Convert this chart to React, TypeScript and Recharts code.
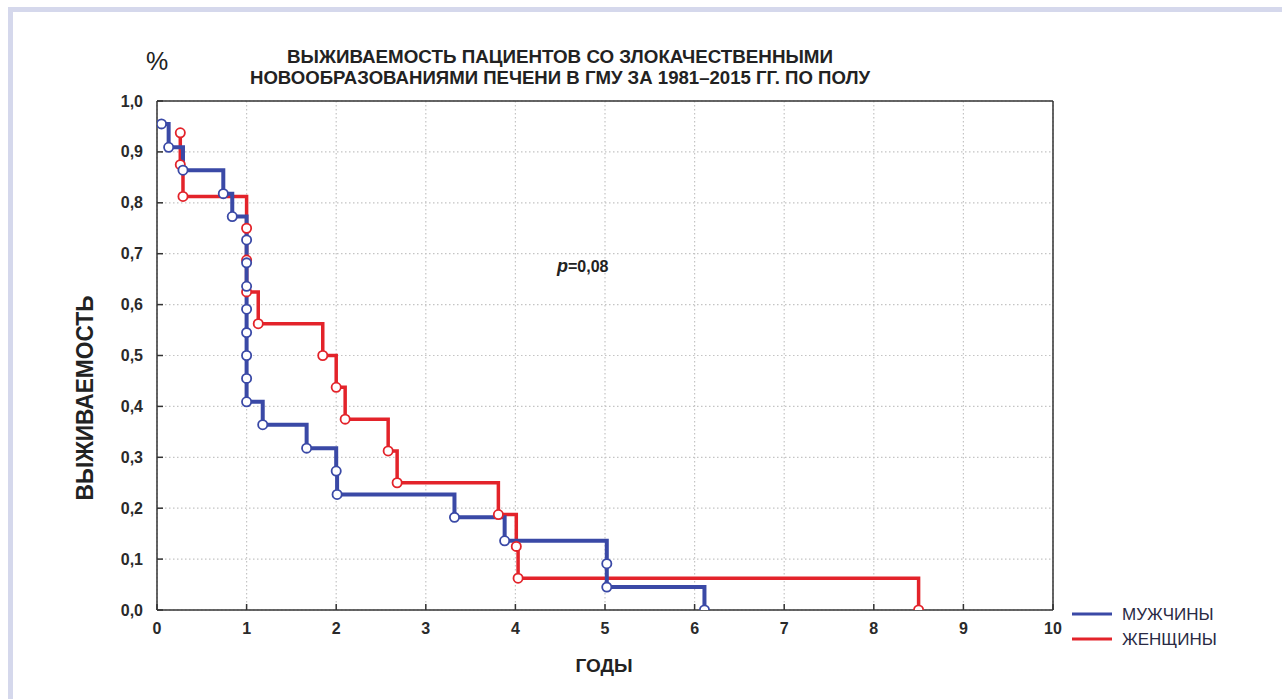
import React from 'react';
import { ComposedChart, Line, XAxis, YAxis, CartesianGrid } from 'recharts';

// ---- data ----
const menTimes = [0.05, 0.13, 0.29, 0.74, 0.84, 1.0, 1.0, 1.0, 1.0, 1.0, 1.0, 1.0, 1.0, 1.18, 1.67, 2.0, 2.01, 3.32, 3.88, 5.02, 5.02, 6.11];
const menSurvival = [0.955, 0.909, 0.864, 0.818, 0.773, 0.727, 0.682, 0.636, 0.591, 0.545, 0.5, 0.455, 0.409, 0.364, 0.318, 0.273, 0.227, 0.182, 0.136, 0.091, 0.045, 0.0];
const womenTimes = [0.26, 0.26, 0.29, 1.0, 1.0, 1.0, 1.13, 1.85, 2.0, 2.1, 2.58, 2.68, 3.81, 4.01, 4.03, 8.5];
const womenSurvival = [0.9375, 0.875, 0.8125, 0.75, 0.6875, 0.625, 0.5625, 0.5, 0.4375, 0.375, 0.3125, 0.25, 0.1875, 0.125, 0.0625, 0.0];
const xTicks = [0, 1, 2, 3, 4, 5, 6, 7, 8, 9, 10];
const yTicks = [0, 0.1, 0.2, 0.3, 0.4, 0.5, 0.6, 0.7, 0.8, 0.9, 1.0];
const seriesNames = ['МУЖЧИНЫ', 'ЖЕНЩИНЫ'];
const seriesColors = ['#3a49a6', '#e3232a'];
const titleLines = ['ВЫЖИВАЕМОСТЬ ПАЦИЕНТОВ СО ЗЛОКАЧЕСТВЕННЫМИ', 'НОВООБРАЗОВАНИЯМИ ПЕЧЕНИ В ГМУ ЗА 1981–2015 ГГ. ПО ПОЛУ'];
const xLabel = 'ГОДЫ';
const yLabel = 'ВЫЖИВАЕМОСТЬ';
const pValue = '=0,08';

const menData = menTimes.map((t, i) => ({ t, s: menSurvival[i] }));
const womenData = womenTimes.map((t, i) => ({ t, s: womenSurvival[i] }));

const FONT = 'Liberation Sans, Arial, sans-serif';
const NARROW = '"Liberation Sans Narrow", "Arial Narrow", "Liberation Sans", Arial, sans-serif';
const AXIS = '#333333';

const fmt = (v: number) => v.toFixed(1).replace('.', ',');

const YTick = (props: any) => {
  const { x, y, payload } = props;
  return (
    <g>
      <line x1={x + 14} x2={x + 20} y1={y} y2={y} stroke={AXIS} strokeWidth={1.5} />
      <text x={x} y={y} dy={5.5} textAnchor="end" fontFamily={NARROW} fontWeight="bold" fontSize={16} fill="#2a2a2a">
        {fmt(payload.value)}
      </text>
    </g>
  );
};

const XTick = (props: any) => {
  const { x, y, payload } = props;
  return (
    <g>
      <line x1={x} x2={x} y1={y} y2={y - 6} stroke={AXIS} strokeWidth={1.5} />
      <text x={x} y={y} dy={24} textAnchor="middle" fontFamily={NARROW} fontWeight="bold" fontSize={16} fill="#2a2a2a">
        {String(payload.value)}
      </text>
    </g>
  );
};

const makeDot = (color: string) => (props: any) => {
  const { cx, cy, index } = props;
  if (cx == null || cy == null) return <g key={`d-${index}`} />;
  return <circle key={`d-${color}-${index}`} cx={cx} cy={cy} r={4.6} fill="#ffffff" stroke={color} strokeWidth={1.8} />;
};

export default function App() {
  return (
    <div style={{ position: 'absolute', left: 0, top: 0, width: 1282, height: 699, background: '#ffffff', overflow: 'hidden' }}>
      <div
        style={{
          position: 'absolute',
          left: 8,
          top: 7,
          right: -10,
          bottom: -10,
          borderTop: '5px solid #d5d8ec',
          borderLeft: '5px solid #d5d8ec',
        }}
      />
      <div style={{ position: 'absolute', left: 0, top: 0 }}>
        <ComposedChart width={1282} height={699} margin={{ top: 91, left: 97, right: 219, bottom: 49 }}>
          <CartesianGrid
            stroke="#c4c4c4"
            strokeDasharray="1.5 2.5"
            strokeWidth={1.2}
            horizontalValues={yTicks}
            verticalValues={xTicks}
          />
          <XAxis
            dataKey="t"
            type="number"
            domain={[0, 10]}
            ticks={xTicks}
            allowDataOverflow
            height={40}
            tickSize={0}
            tickMargin={0}
            tickLine={false}
            tick={<XTick />}
            axisLine={{ stroke: AXIS, strokeWidth: 1.5 }}
            interval={0}
          />
          <XAxis
            xAxisId="top"
            orientation="top"
            dataKey="t"
            type="number"
            domain={[0, 10]}
            height={10}
            tick={false}
            tickLine={false}
            axisLine={{ stroke: AXIS, strokeWidth: 1.5 }}
          />
          <YAxis
            dataKey="s"
            type="number"
            domain={[0, 1]}
            ticks={yTicks}
            allowDataOverflow
            width={60}
            tickSize={0}
            tickMargin={14}
            tickLine={false}
            tick={<YTick />}
            axisLine={{ stroke: AXIS, strokeWidth: 1.5 }}
            interval={0}
          />
          <YAxis
            yAxisId="right"
            orientation="right"
            dataKey="s"
            type="number"
            domain={[0, 1]}
            width={10}
            tick={false}
            tickLine={false}
            axisLine={{ stroke: AXIS, strokeWidth: 1.5 }}
          />
          <Line
            data={womenData}
            dataKey="s"
            name={seriesNames[1]}
            type="stepAfter"
            stroke={seriesColors[1]}
            strokeWidth={3.5}
            dot={makeDot(seriesColors[1])}
            activeDot={false}
            isAnimationActive={false}
          />
          <Line
            data={menData}
            dataKey="s"
            name={seriesNames[0]}
            type="stepAfter"
            stroke={seriesColors[0]}
            strokeWidth={4}
            dot={makeDot(seriesColors[0])}
            activeDot={false}
            isAnimationActive={false}
          />
        </ComposedChart>
      </div>
      <svg width={1282} height={699} style={{ position: 'absolute', left: 0, top: 0, pointerEvents: 'none' }}>
        <text x={157} y={70} textAnchor="middle" fontFamily={FONT} fontSize={25} fill="#222">%</text>
        <text x={560} y={63} textAnchor="middle" fontFamily={NARROW} fontWeight="bold" fontSize={18} fill="#222" textLength={546} lengthAdjust="spacingAndGlyphs">
          {titleLines[0]}
        </text>
        <text x={560} y={84} textAnchor="middle" fontFamily={NARROW} fontWeight="bold" fontSize={18} fill="#222" textLength={620} lengthAdjust="spacingAndGlyphs">
          {titleLines[1]}
        </text>
        <text x={557} y={272} fontFamily={FONT} fontWeight="bold" fontSize={16} fill="#222">
          <tspan fontStyle="italic" fontSize={18}>p</tspan>
          <tspan>{pValue}</tspan>
        </text>
        <text
          x={0}
          y={0}
          transform="translate(93 398) rotate(-90)"
          textAnchor="middle"
          fontFamily={NARROW}
          fontWeight="bold"
          fontSize={24}
          fill="#222"
          textLength={205}
          lengthAdjust="spacingAndGlyphs"
        >
          {yLabel}
        </text>
        <text x={604} y={672} textAnchor="middle" fontFamily={FONT} fontWeight="bold" fontSize={19} fill="#222">
          {xLabel}
        </text>
        {seriesNames.map((name, i) => (
          <g key={name}>
            <line x1={1072} x2={1112} y1={614 + i * 25} y2={614 + i * 25} stroke={seriesColors[i]} strokeWidth={3} />
            <text x={1122} y={620 + i * 25} fontFamily={FONT} fontSize={17} fill="#2a2a44">
              {name}
            </text>
          </g>
        ))}
      </svg>
    </div>
  );
}
